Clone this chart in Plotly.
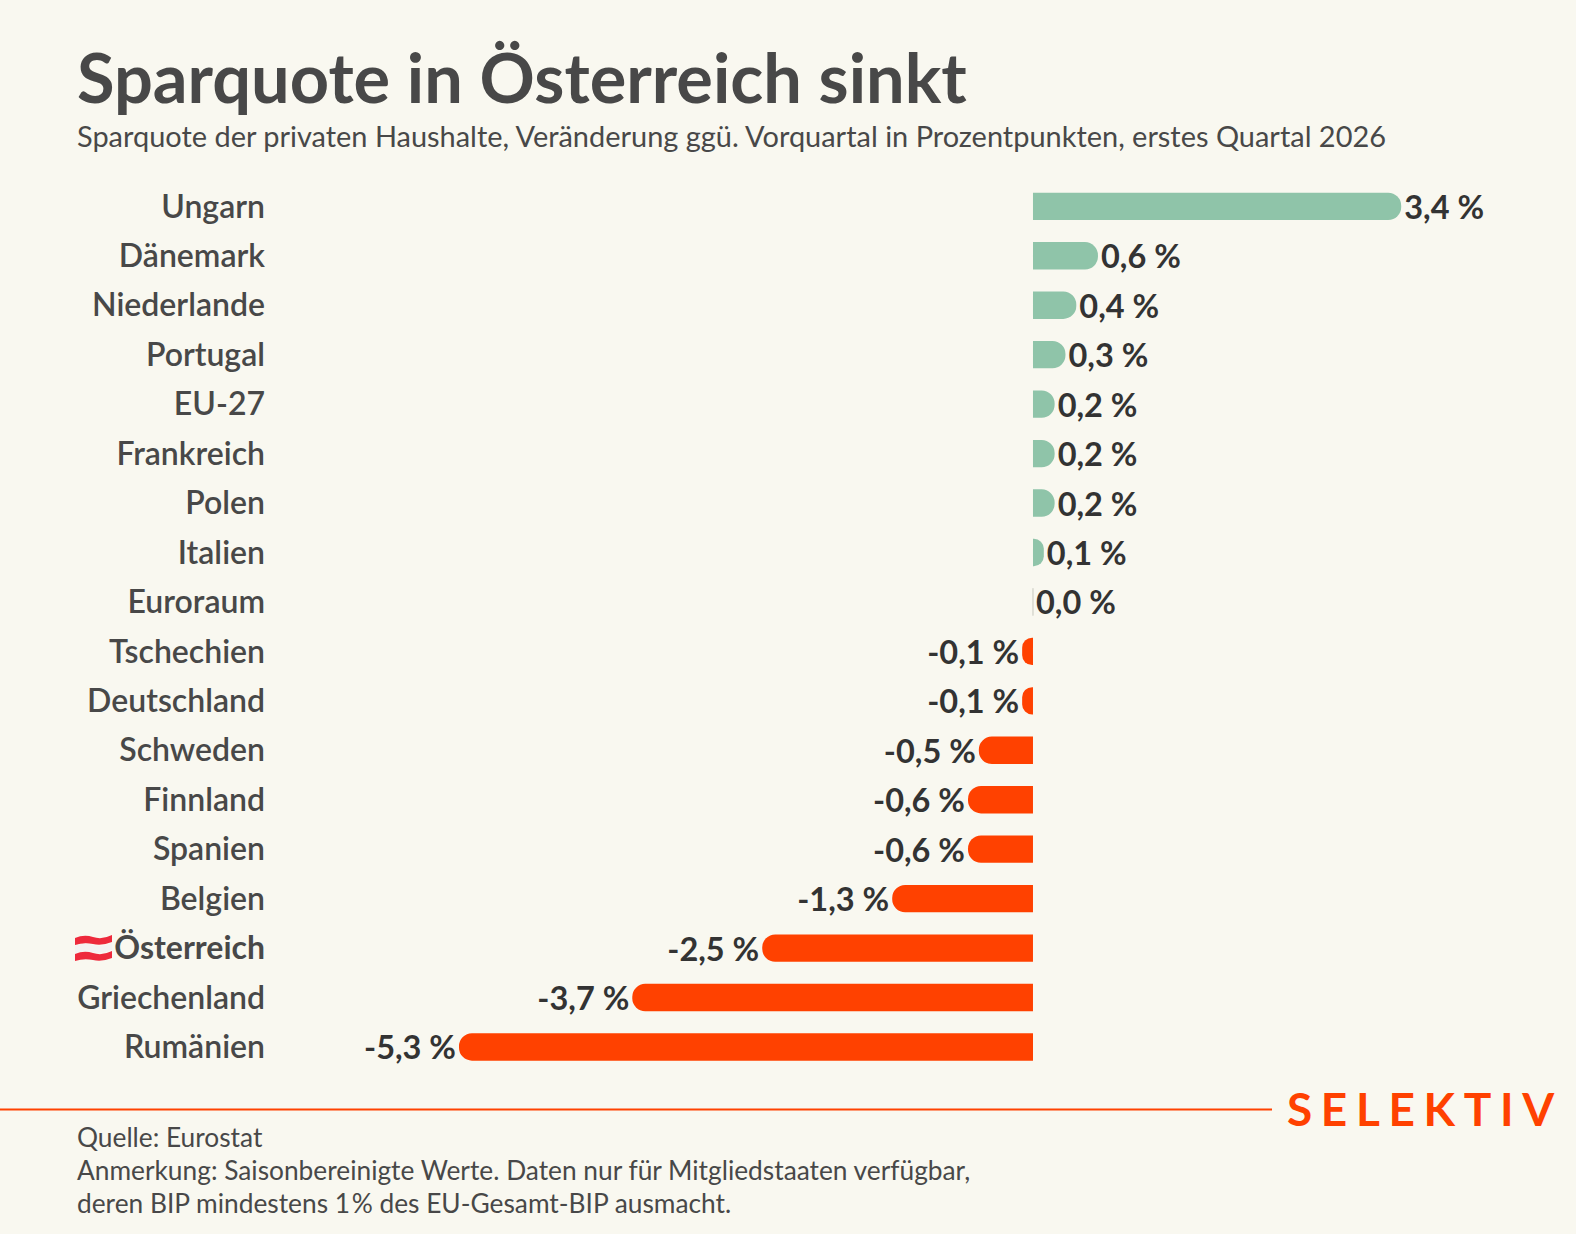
import plotly.graph_objects as go

laender = ['Ungarn', 'Dänemark', 'Niederlande', 'Portugal', 'EU-27', 'Frankreich', 'Polen', 'Italien',
           'Euroraum', 'Tschechien', 'Deutschland', 'Schweden', 'Finnland', 'Spanien', 'Belgien',
           '<b>Österreich</b>', 'Griechenland', 'Rumänien']
werte = [3.4, 0.6, 0.4, 0.3, 0.2, 0.2, 0.2, 0.1, 0.0, -0.1, -0.1, -0.5, -0.6, -0.6, -1.3, -2.5, -3.7, -5.3]

titel = 'Sparquote in Österreich sinkt'
untertitel = 'Sparquote der privaten Haushalte, Veränderung ggü. Vorquartal in Prozentpunkten, erstes Quartal 2026'
fussnoten = ['Quelle: Eurostat',
             'Anmerkung: Saisonbereinigte Werte. Daten nur für Mitgliedstaaten verfügbar,',
             'deren BIP mindestens 1\u200a% des EU-Gesamt-BIP ausmacht.']
logo = '\u2009\u200a'.join('SELEKTIV')

W, H = 1576, 1234
HINTERGRUND = '#f9f8f0'
GRUEN = '#8fc4a9'
ROT = '#ff4100'
GRAU = '#484848'
DUNKEL = '#333333'
FONT = 'Lato'


def px(x):
    return x / W


def py(y):
    return 1 - y / H


def text_at(x, y, text, size, color=GRAU, weight=400, anchor='left'):
    return dict(x=px(x), y=py(y), xref='paper', yref='paper', text=text, showarrow=False,
                xanchor=anchor, yanchor='middle', align=anchor,
                font=dict(family=FONT, size=size, color=color, weight=weight))


def streifen(y0, y1, farbe):
    # leicht gewellter Flaggenstreifen
    x0, xm, x1 = px(75), px(93), px(112)
    pfad = (f'M{x0},{py(y0 + 2)} Q{px(84)},{py(y0 - 2)} {xm},{py(y0 + 1)} T{x1},{py(y0 - 1)} '
            f'L{x1},{py(y1 - 2)} Q{px(102)},{py(y1 + 2)} {xm},{py(y1)} T{x0},{py(y1 + 1)} Z')
    return dict(type='path', xref='paper', yref='paper', path=pfad, fillcolor=farbe, line_width=0)


labels = [f'{w:.1f}'.replace('.', ',') + ' %' for w in werte]
farben = [GRUEN if w >= 0 else ROT for w in werte]

fig = go.Figure(go.Bar(
    x=werte, y=laender, orientation='h',
    marker=dict(color=farben, cornerradius=14,
                line=dict(width=[0.6 if w == 0 else 0 for w in werte], color='#c8c8c0')),
    text=labels, textposition='outside', cliponaxis=False, constraintext='none',
    textfont=dict(family=FONT, size=32.5, color=DUNKEL, weight=700),
))

annotationen = [
    text_at(75, 76, titel, 68.5, weight=700),
    text_at(75, 135, untertitel, 28.95),
    text_at(75, 1137, fussnoten[0], 26.3),
    text_at(75, 1170, fussnoten[1], 26.3),
    text_at(75, 1203, fussnoten[2], 26.3),
    text_at(1285, 1108, logo, 46, color=ROT, weight=700),
]

formen = [
    dict(type='line', xref='paper', yref='paper', x0=0, x1=px(1272), y0=py(1109.5), y1=py(1109.5),
         line=dict(color=ROT, width=2)),
    streifen(936, 944, '#ee2a3c'),
    streifen(944, 952, '#f4f2f2'),
    streifen(952, 960, '#ee2a3c'),
]

fig.update_layout(
    width=W, height=H,
    margin=dict(l=0, r=0, t=0, b=0),
    paper_bgcolor=HINTERGRUND, plot_bgcolor=HINTERGRUND,
    showlegend=False, bargap=0.446,
    annotations=annotationen, shapes=formen,
    xaxis=dict(domain=[px(266), 1], range=[-7.082, 5.014], visible=False),
    yaxis=dict(domain=[py(1071.7), py(181.6)], autorange='reversed', type='category',
               showgrid=False, zeroline=False, showline=False, ticks='',
               ticklabelstandoff=0, automargin=False,
               tickfont=dict(family=FONT, size=32, color=GRAU, weight=600)),
)

fig.write_html('out.html', post_script="document.body.style.margin='0';",
               config={'displayModeBar': False})
